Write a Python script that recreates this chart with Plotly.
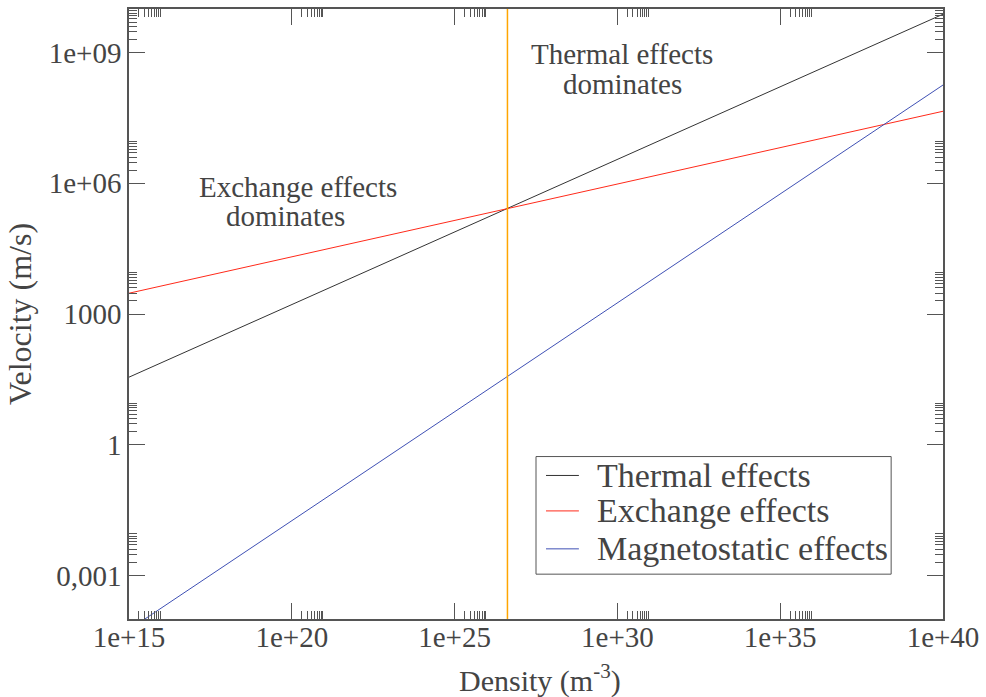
import plotly.graph_objects as go

# Density range of the plot (m^-3) and characteristic velocities (m/s)
density = [1e15, 1e40]
thermal_velocity = [35.5, 7.6e9]
exchange_velocity = [3.0e3, 4.5e7]
magnetostatic_velocity = [5.7e-5, 1.8e8]

# Density where thermal and exchange velocities are equal
crossover_density = 4.2e26
velocity_span = [1e-4, 1e10]

series_names = ["Thermal effects", "Exchange effects", "Magnetostatic effects"]
series_colors = ["#333333", "#ff2a1a", "#3f50b4"]

# Axis ticks
x_major = [1e15, 1e20, 1e25, 1e30, 1e35, 1e40]
x_labels = ["1e+15", "1e+20", "1e+25", "1e+30", "1e+35", "1e+40"]
y_major = [1e-3, 1, 1e3, 1e6, 1e9]
y_labels = ["0,001", "1", "1000", "1e+06", "1e+09"]

x_minor = [k * m for m in x_major[:-1] for k in range(2, 10)]
y_minor = [k * m for m in y_major for k in range(2, 10)]

FONT = "Liberation Serif"
TEXT = "#444444"
FRAME = "#555555"

fig = go.Figure()
for name, color, values in zip(series_names, series_colors,
                               [thermal_velocity, exchange_velocity,
                                magnetostatic_velocity]):
    fig.add_trace(go.Scatter(x=density, y=values, mode="lines", name=name,
                             showlegend=False, line=dict(color=color, width=1)))
fig.add_trace(go.Scatter(x=[crossover_density, crossover_density], y=velocity_span,
                         mode="lines", showlegend=False,
                         line=dict(color="#ffa500", width=1.5)))

axis_common = dict(
    type="log",
    showgrid=False,
    zeroline=False,
    showline=True,
    linecolor=FRAME,
    linewidth=1.5,
    mirror="ticks",
    ticks="inside",
    ticklen=16,
    tickwidth=1,
    tickcolor=FRAME,
    tickmode="array",
    tickfont=dict(family=FONT, size=29, color=TEXT),
)

fig.update_xaxes(
    **axis_common,
    range=[15, 40],
    tickvals=x_major,
    ticktext=x_labels,
    ticklabelstandoff=-9,
    minor=dict(tickmode="array", tickvals=x_minor, ticks="inside",
               ticklen=8, tickwidth=1, tickcolor=FRAME, showgrid=False),
)
fig.update_yaxes(
    **axis_common,
    range=[-4, 10],
    tickvals=y_major,
    ticktext=y_labels,
    minor=dict(tickmode="array", tickvals=y_minor, ticks="inside",
               ticklen=8, tickwidth=1, tickcolor=FRAME, showgrid=False),
    title=dict(text="Velocity (m/s)",
               font=dict(family=FONT, size=32, color=TEXT), standoff=8),
)

# X-axis title placed below the tick labels
fig.add_annotation(x=0.505, y=-0.098, xref="paper", yref="paper",
                   xanchor="center", yanchor="middle",
                   text="Density (m<sup>-3</sup>)", showarrow=False,
                   font=dict(family=FONT, size=30, color=TEXT))

# Region labels, one annotation per line
region_labels = [
    ("Thermal effects", 0.6054, 0.9257),
    ("dominates", 0.6066, 0.8775),
    ("Exchange effects", 0.2071, 0.7085),
    ("dominates", 0.1924, 0.6599),
]
for text, ax, ay in region_labels:
    fig.add_annotation(x=ax, y=ay, xref="paper", yref="paper",
                       xanchor="center", yanchor="middle", text=text,
                       showarrow=False,
                       font=dict(family=FONT, size=29, color=TEXT))

# Legend box drawn in paper coordinates
fig.add_shape(type="rect", xref="paper", yref="paper",
              x0=0.5, x1=0.9363, y0=0.0735, y1=0.2663,
              line=dict(color=FRAME, width=1), fillcolor="white", layer="above")
legend_rows = [0.2353, 0.1772, 0.1150]
for name, color, ry in zip(series_names, series_colors, legend_rows):
    fig.add_shape(type="line", xref="paper", yref="paper",
                  x0=0.5123, x1=0.5527, y0=ry, y1=ry,
                  line=dict(color=color, width=1), layer="above")
    fig.add_annotation(x=0.5725, y=ry, xref="paper", yref="paper",
                       xanchor="left", yanchor="middle", text=name,
                       showarrow=False,
                       font=dict(family=FONT, size=34, color=TEXT))

fig.update_layout(
    width=986,
    height=697,
    margin=dict(l=129, r=41, t=7, b=78),
    paper_bgcolor="white",
    plot_bgcolor="white",
    font=dict(family=FONT, color=TEXT),
    showlegend=False,
)

fig.write_html("out.html")
